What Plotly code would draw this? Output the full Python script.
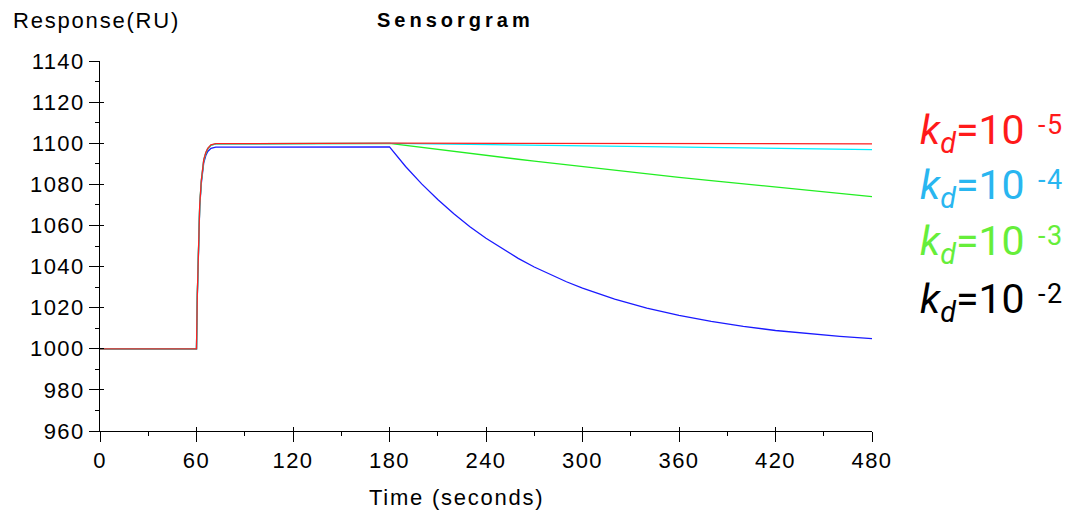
import plotly.graph_objects as go

# ---------------- data ----------------
time_assoc = [0, 60, 60.5, 61, 61.6, 62, 63, 63.7, 64.5, 65.8, 67, 69, 72]
time_dissoc = [180, 190, 200, 210, 220, 230, 240, 250, 260, 270, 280, 290, 300,
               320, 340, 360, 380, 400, 420, 440, 460, 480]

red_assoc = [1000, 1000, 1026, 1045, 1064, 1070, 1082, 1088, 1092, 1095.5, 1097.5, 1099.2, 1099.8]
cyan_assoc = [1000, 1000, 1026, 1045, 1064, 1070, 1082, 1088, 1092, 1095.5, 1097.5, 1099.1, 1099.7]
green_assoc = [1000, 1000, 1026, 1045, 1064, 1070, 1081.5, 1087.5, 1091.5, 1095, 1097.2, 1099.0, 1099.7]
blue_assoc = [1000, 1000, 1025, 1044, 1063, 1069, 1080.5, 1086.5, 1090.5, 1094, 1096, 1097.5, 1098.1]

red_dissoc = [1100.0, 1100.0, 1100.0, 1100.0, 1099.9, 1099.9, 1099.9, 1099.9, 1099.9, 1099.9, 1099.9,
              1099.9, 1099.9, 1099.8, 1099.8, 1099.8, 1099.8, 1099.8, 1099.8, 1099.7, 1099.7, 1099.7]
cyan_dissoc = [1099.9, 1099.8, 1099.7, 1099.6, 1099.5, 1099.4, 1099.3, 1099.2, 1099.1, 1099.0, 1098.9,
               1098.8, 1098.7, 1098.5, 1098.3, 1098.1, 1097.9, 1097.7, 1097.5, 1097.3, 1097.1, 1096.9]
green_dissoc = [1099.9, 1098.9, 1097.9, 1096.9, 1096.0, 1095.0, 1094.1, 1093.1, 1092.2, 1091.3, 1090.4,
                1089.5, 1088.6, 1086.8, 1085.1, 1083.4, 1081.8, 1080.2, 1078.6, 1077.0, 1075.5, 1074.0]
blue_dissoc = [1098.2, 1088.7, 1080.2, 1072.6, 1065.7, 1059.4, 1053.8, 1048.7, 1044.0, 1039.8, 1036.1,
               1032.6, 1029.5, 1024.2, 1019.8, 1016.2, 1013.3, 1010.9, 1008.9, 1007.3, 1006.0, 1004.9]

series_names = ["kd=1e-2", "kd=1e-3", "kd=1e-4", "kd=1e-5"]
legend_exponents = ["-5", "-4", "-3", "-2"]

x_ticks = [0, 60, 120, 180, 240, 300, 360, 420, 480]
x_tick_labels = ["0", "60", "120", "180", "240", "300", "360", "420", "480"]
y_ticks = [960, 980, 1000, 1020, 1040, 1060, 1080, 1100, 1120, 1140]
y_tick_labels = ["960", "980", "1000", "1020", "1040", "1060", "1080", "1100", "1120", "1140"]

# ---------------- styling ----------------
FONT = "Liberation Sans, Arial, sans-serif"


def spaced(s, sp):
    return f'<span style="letter-spacing:{sp}px">{s}</span>'


times = time_assoc + time_dissoc
curves = [
    (blue_assoc + blue_dissoc, "#1a1aff", series_names[0]),
    (green_assoc + green_dissoc, "#22ee22", series_names[1]),
    (cyan_assoc + cyan_dissoc, "#00eeff", series_names[2]),
    (red_assoc + red_dissoc, "#ff2020", series_names[3]),
]

fig = go.Figure()
for vals, col, name in curves:
    fig.add_trace(go.Scatter(x=times, y=vals, mode="lines", name=name,
                             line=dict(color=col, width=1.3), showlegend=False))

# dummy trace so the overlay axes (inside tick halves) are drawn
fig.add_trace(go.Scatter(x=[None], y=[None], xaxis="x2", yaxis="y2",
                         showlegend=False, hoverinfo="skip"))

axis_common = dict(showgrid=False, zeroline=False, showline=True, linecolor="black",
                   linewidth=1, ticks="outside", ticklen=10, tickwidth=1, tickcolor="black",
                   tickfont=dict(family=FONT, size=22, color="black"))

# page body has an 8px offset; plot area on screen: x 100..872, y 61..431
OFF = 8
PLOT_L, PLOT_R, PLOT_T, PLOT_B = 100, 872, 61, 431
W, H = 1074, 517

fig.update_layout(
    width=W, height=H,
    margin=dict(l=PLOT_L - OFF, r=W - (PLOT_R - OFF), t=PLOT_T - OFF, b=H - (PLOT_B - OFF)),
    paper_bgcolor="white", plot_bgcolor="white",
    xaxis=dict(range=[0, 480], tickmode="array", tickvals=x_ticks,
               ticktext=[spaced(t, 1.4) for t in x_tick_labels], automargin=False,
               minor=dict(dtick=30, tick0=0, ticks="outside", ticklen=4, tickcolor="black"),
               **axis_common),
    yaxis=dict(range=[960, 1140], tickmode="array", tickvals=y_ticks,
               ticktext=[spaced(t, 1.4) for t in y_tick_labels], automargin=False,
               minor=dict(dtick=10, tick0=960, ticks="outside", ticklen=4, tickcolor="black"),
               **axis_common),
    xaxis2=dict(range=[0, 480], overlaying="x", anchor="y2", tickvals=x_ticks,
                showticklabels=False, ticks="inside", ticklen=4, tickcolor="black",
                showgrid=False, zeroline=False, showline=False),
    yaxis2=dict(range=[960, 1140], overlaying="y", anchor="x2", tickvals=y_ticks,
                showticklabels=False, ticks="inside", ticklen=4, tickcolor="black",
                showgrid=False, zeroline=False, showline=False),
)


def px(xp):
    return (xp - PLOT_L) / (PLOT_R - PLOT_L)


def py(yp):
    return (PLOT_B - yp) / (PLOT_B - PLOT_T)


fig.add_annotation(text=spaced("Response(RU)", 1.8), xref="paper", yref="paper",
                   x=px(11), y=py(20), xanchor="left", yanchor="middle", showarrow=False,
                   font=dict(family=FONT, size=22, color="black"))
fig.add_annotation(text="<b>" + spaced("Sensorgram", 4.0) + "</b>", xref="paper", yref="paper",
                   x=px(455), y=py(20), xanchor="center", yanchor="middle", showarrow=False,
                   font=dict(family=FONT, size=20, color="black"))
fig.add_annotation(text=spaced("Time (seconds)", 1.75), xref="paper", yref="paper",
                   x=px(456), y=py(497), xanchor="center", yanchor="middle", showarrow=False,
                   font=dict(family=FONT, size=22, color="black"))

legend_colors = ["#ff1a1a", "#29b6f0", "#66ee3a", "#000000"]
legend_baselines = [148, 203, 259, 317]
for e, c, yb in zip(legend_exponents, legend_colors, legend_baselines):
    fig.add_annotation(
        text='<i>k</i><sub><i>d</i></sub>=10',
        xref="paper", yref="paper", x=px(918), y=py(yb - 15), xanchor="left", yanchor="middle",
        showarrow=False, font=dict(family="Roboto, sans-serif", size=41, color=c))
    fig.add_annotation(
        text=spaced(e, 1.5), xref="paper", yref="paper", x=px(1036), y=py(yb - 23),
        xanchor="left", yanchor="middle", showarrow=False,
        font=dict(family="Roboto, sans-serif", size=27, color=c))

fig.write_html("out.html")
